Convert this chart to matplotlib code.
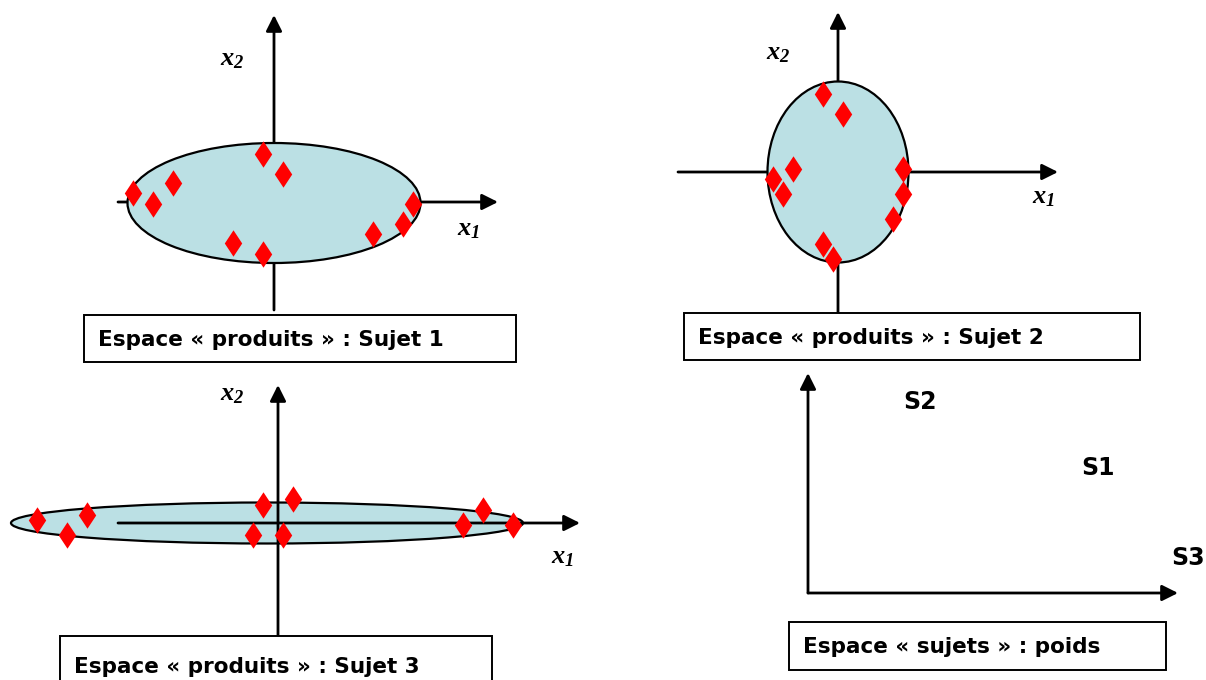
import matplotlib.pyplot as plt
from matplotlib.patches import Ellipse, Rectangle
from matplotlib.path import Path
from matplotlib.transforms import Affine2D

plt.rcParams['mathtext.fontset'] = 'custom'
plt.rcParams['mathtext.it'] = 'Liberation Serif:italic:bold'
plt.rcParams['mathtext.rm'] = 'Liberation Serif:italic:bold'

# product positions (x1, x2) for each subject, in pixel-like units around the origin
s1_x1 = [-11, 9, -101, -141, -121, 139, 129, 99, -41, -11]
s1_x2 = [48, 28, 19, 9, -2, -2, -22, -32, -41, -52]
s2_x1 = [-15, 5, -45, -65, -55, 65, 65, 55, -15, -5]
s2_x2 = [78, 58, 3, -7, -22, 3, -22, -47, -72, -87]
s3_x1 = [-241, -191, -211, -15, 15, -25, 5, 205, 185, 235]
s3_x2 = [3, 8, -12, 18, 24, -12, -12, 13, -2, -2]

# subject weights in the "sujets" space
subjects = ['S1', 'S2', 'S3']
w_x = [290, 112, 380]
w_y = [125, 191, 35]

fill = '#bbe0e4'
red = '#ff0000'
diamond = Path([(0, 1), (0.66, 0), (0, -1), (-0.66, 0), (0, 1)],
               [Path.MOVETO, Path.LINETO, Path.LINETO, Path.LINETO, Path.CLOSEPOLY])

fig = plt.figure(figsize=(12.06, 6.8), dpi=100)
ax = fig.add_axes([0, 0, 1, 1])
ax.set_xlim(0, 1206)
ax.set_ylim(680, 0)
ax.axis('off')


def panel_tr(ox, oy):
    return Affine2D().scale(1, -1).translate(ox, oy) + ax.transData


def arrow(tr, x0, y0, x1, y1, z=2):
    ax.annotate('', xy=(x1, y1), xytext=(x0, y0), xycoords=tr, textcoords=tr, zorder=z,
                arrowprops=dict(arrowstyle='-|>', color='black',
                                lw=2.0, mutation_scale=24, shrinkA=0, shrinkB=0))


def product_panel(ox, oy, xs, ys, ell, hline, vline, lab1, lab2, ell_on_top=True):
    tr = panel_tr(ox, oy)
    cx, cy, w, h = ell
    ax.add_patch(Ellipse((cx, cy), w, h, facecolor=fill, edgecolor='black', lw=1.6,
                         transform=tr, zorder=3 if ell_on_top else 1))
    arrow(tr, hline[0], 0, hline[1], 0)
    arrow(tr, 0, vline[0], 0, vline[1])
    ax.plot(xs, ys, ls='none', marker=diamond, ms=19, color=red, mec=red, mew=0,
            transform=tr, zorder=5)
    ax.text(lab1[0], lab1[1], r'$x_1$', fontsize=19, transform=tr, ha='center', va='center')
    ax.text(lab2[0], lab2[1], r'$x_2$', fontsize=19, transform=tr, ha='center', va='center')


def caption(x, y, w, h, txt):
    ax.add_patch(Rectangle((x, y), w, h, facecolor='white', edgecolor='black', lw=1.4, zorder=6))
    ax.text(x + 14, y + h / 2 + 1, txt, fontsize=15.5, fontweight='bold',
            family='DejaVu Sans', va='center', ha='left', zorder=7)


product_panel(274, 202, s1_x1, s1_x2, (0, -1, 293, 120), (-156, 224), (-108, 187),
              (194, -26), (-42, 144))
caption(84, 315, 432, 47, 'Espace « produits » : Sujet 1')

product_panel(838, 172, s2_x1, s2_x2, (0, 0, 141, 181), (-160, 220), (-140, 160),
              (205, -24), (-60, 120))
caption(684, 313, 456, 47, 'Espace « produits » : Sujet 2')

product_panel(278, 523, s3_x1, s3_x2, (-11, 0, 512, 41), (-160, 302), (-112, 138),
              (284, -33), (-46, 130), ell_on_top=False)
caption(60, 636, 432, 60, 'Espace « produits » : Sujet 3')

# subjects space
tr4 = panel_tr(808, 593)
arrow(tr4, 0, 0, 0, 220)
arrow(tr4, 0, 0, 370, 0)
for s, x, y in zip(subjects, w_x, w_y):
    ax.text(x, y, s, transform=tr4, fontsize=17, fontweight='bold', ha='center', va='center')
caption(789, 622, 377, 48, 'Espace « sujets » : poids')

fig.savefig('out.png', dpi=100)
